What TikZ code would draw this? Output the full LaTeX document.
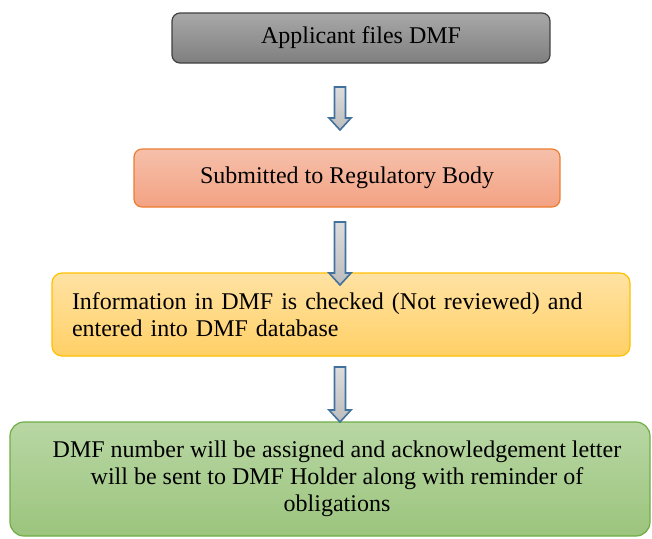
\documentclass[tikz,border=0pt]{standalone}
\usepackage{fontspec}
\setmainfont{Liberation Serif}
\definecolor{greytop}{HTML}{A8A8A8}
\definecolor{greybot}{HTML}{7F7F7F}
\definecolor{salmontop}{HTML}{F6C0AA}
\definecolor{salmonbot}{HTML}{F3A283}
\definecolor{salmonline}{HTML}{ED7D31}
\definecolor{goldtop}{HTML}{FFE2A3}
\definecolor{goldbot}{HTML}{FFD066}
\definecolor{goldline}{HTML}{FFC000}
\definecolor{greentop}{HTML}{B8D7A4}
\definecolor{greenbot}{HTML}{9CC47D}
\definecolor{greenline}{HTML}{70AD47}
\definecolor{steel}{HTML}{41719C}
\definecolor{arrowtop}{HTML}{DCDCDC}
\definecolor{arrowbot}{HTML}{BDBDBD}

% block arrow pointing down: x, top y, tip y
\newcommand{\downblock}[3]{%
  \draw[blockarrow] (#1-5.5,#2) -- (#1+5.5,#2) -- (#1+5.5,#3-12) -- (#1+11,#3-12)
    -- (#1,#3) -- (#1-11,#3-12) -- (#1-5.5,#3-12) -- cycle;}

\begin{document}
\begin{tikzpicture}[x=0.5pt, y=-0.5pt,
  box/.style={rounded corners=4pt, line width=0.6pt, inner sep=0pt,
    font=\fontsize{12}{13.5}\selectfont},
  blockarrow/.style={draw=steel, line width=0.8pt, top color=arrowtop, bottom color=arrowbot}]
\useasboundingbox (0,0) rectangle (652,538);

\node[box, draw=black!75, top color=greytop, bottom color=greybot,
  minimum width=189pt, minimum height=25pt] (apply) at (361,38) {Applicant files DMF};
\node[box, draw=salmonline, top color=salmontop, bottom color=salmonbot,
  minimum width=213pt, minimum height=29pt] (submit) at (347,178) {Submitted to Regulatory Body};
\node[box, draw=goldline, top color=goldtop, bottom color=goldbot, rounded corners=5pt,
  text width=269pt, align=left, inner xsep=10pt, minimum height=41.5pt] (check) at (341,314.5)
  {Information in DMF is checked (Not reviewed) and\\entered into DMF database};
\node[box, draw=greenline, top color=greentop, bottom color=greenbot, rounded corners=7pt,
  minimum width=320pt, minimum height=57pt, align=center] (assign) at (330,479)
  {\hspace*{7pt}DMF number will be assigned and acknowledgement letter\\
   \hspace*{7pt}will be sent to DMF Holder along with reminder of\\
   \hspace*{7pt}obligations};

\downblock{340}{87}{130}
\downblock{340}{222}{285}
\downblock{340}{367}{422}
\end{tikzpicture}
\end{document}
